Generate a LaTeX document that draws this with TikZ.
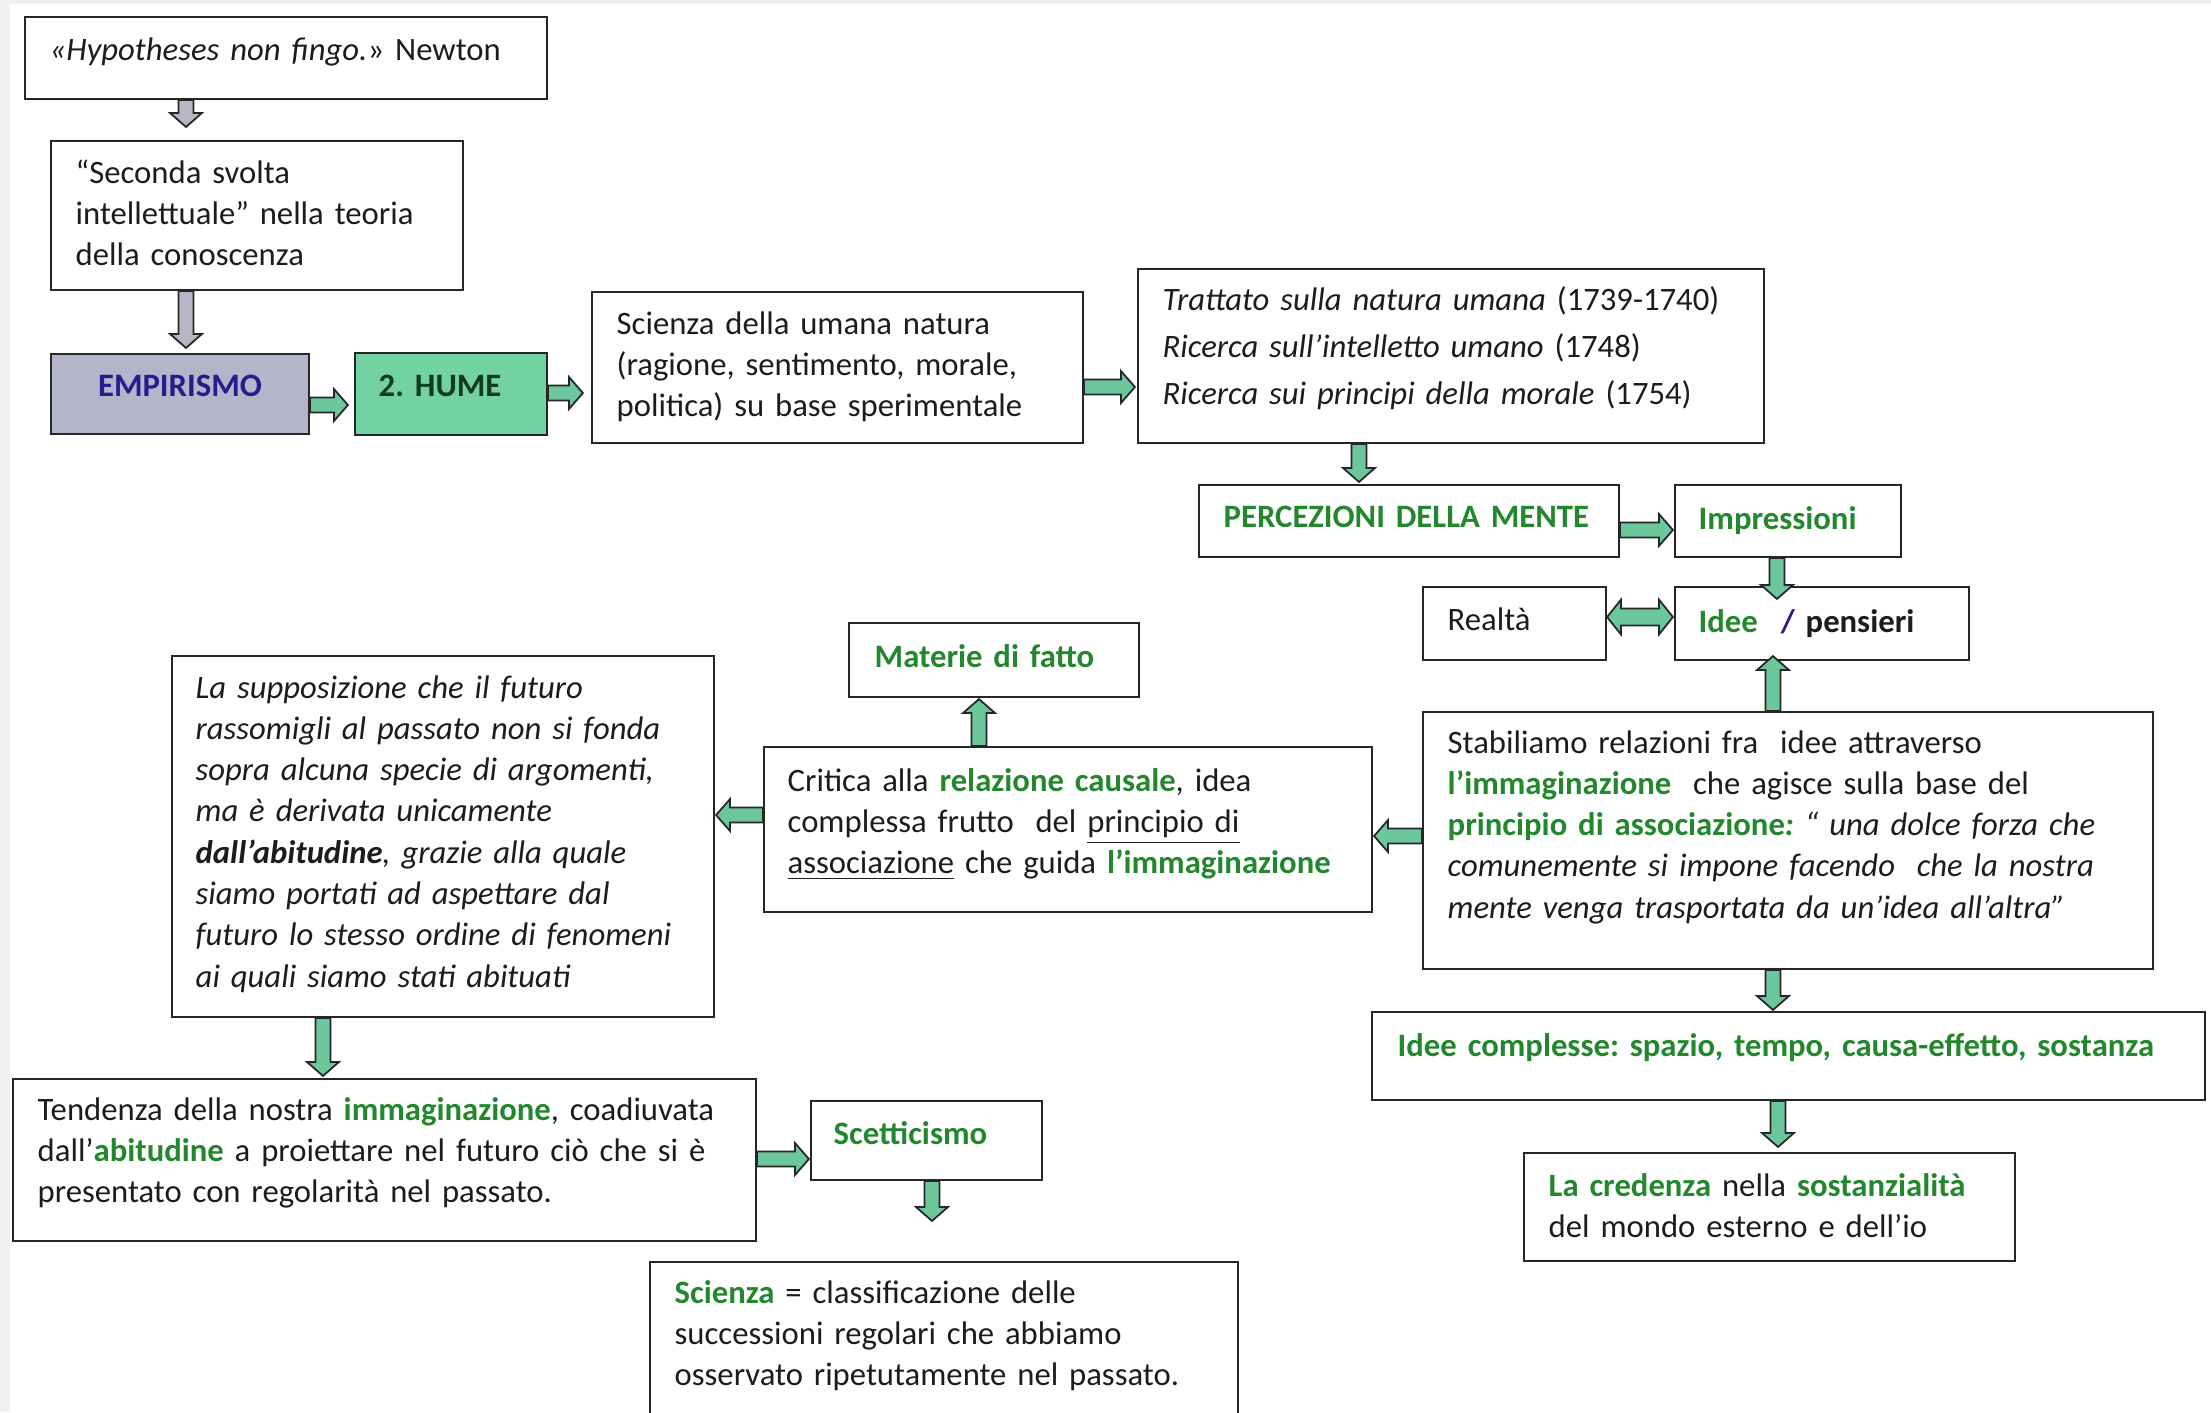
\documentclass[tikz,border=0pt]{standalone}
\usepackage{fontspec}
\setmainfont{Carlito}
\usetikzlibrary{calc,fit}
\frenchspacing
\definecolor{bordc}{HTML}{262626}
\definecolor{gtext}{RGB}{35,135,45}
\definecolor{arrowg}{HTML}{6DC79D}
\definecolor{arrowgrey}{HTML}{B6B6C6}
\definecolor{empfill}{HTML}{B4B4CB}
\definecolor{humefill}{HTML}{73D2A1}
\definecolor{emptext}{HTML}{2A1B8C}
\definecolor{humetext}{HTML}{0E3B22}
\definecolor{bggrey}{HTML}{F0F0F0}
\definecolor{maintext}{HTML}{1C1C1C}
\newcommand{\mainsize}{\fontsize{9.3pt}{11.75pt}\selectfont\frenchspacing}
\newcommand{\gb}[1]{\textcolor{gtext}{\textbf{#1}}}
\newcommand{\blockarrow}[3][greenarrow]{%
  \path #2 coordinate (bA) #3 coordinate (bB);
  \path ($(bB)!1.4mm!(bA)$) coordinate (bC);
  \draw[#1] ($(bA)!0.75mm!90:(bB)$) -- ($(bC)!0.75mm!90:(bB)$) -- ($(bC)!1.6mm!90:(bB)$) -- (bB)
    -- ($(bC)!1.6mm!-90:(bB)$) -- ($(bC)!0.75mm!-90:(bB)$) -- ($(bA)!0.75mm!-90:(bB)$) -- cycle;
}
\newcommand{\dblarrow}[3][greenarrow]{%
  \path #2 coordinate (bA) #3 coordinate (bB);
  \path ($(bB)!1.4mm!(bA)$) coordinate (bC) ($(bA)!1.4mm!(bB)$) coordinate (bD);
  \draw[#1] (bA) -- ($(bD)!1.75mm!90:(bB)$) -- ($(bD)!0.85mm!90:(bB)$) -- ($(bC)!0.85mm!90:(bB)$) -- ($(bC)!1.75mm!90:(bB)$) -- (bB)
    -- ($(bC)!1.75mm!-90:(bB)$) -- ($(bC)!0.85mm!-90:(bB)$) -- ($(bD)!0.85mm!-90:(bB)$) -- ($(bD)!1.75mm!-90:(bB)$) -- cycle;
}
\begin{document}
\begin{tikzpicture}[x=0.1mm,y=-0.1mm,
  mybox/.style={draw=bordc, line width=0.6pt, fill=white, inner sep=0pt},
  txt/.style={anchor=base west, inner sep=0pt, text width=150mm, align=left, font=\mainsize, text=maintext},
  greenarrow/.style={draw=bordc, line width=0.5pt, fill=arrowg, line join=miter},
  greyarrow/.style={draw=bordc, line width=0.5pt, fill=arrowgrey, line join=miter}]
\useasboundingbox (0,0) rectangle (2211,1412);
\clip (0,0) rectangle (2211,1412);
\fill[bggrey] (0,0) rectangle (2211,1412);
\fill[white] (10,4) rectangle (2211,1412);

% boxes
\node[mybox, fit={(25,17) (547,99)}] (newton) {};
\node[mybox, fit={(51,141) (463,290)}] (seconda) {};
\node[mybox, fill=empfill, fit={(51,354) (309,434)}] (empir) {};
\node[mybox, fill=humefill, fit={(355,353) (547,435)}] (hume) {};
\node[mybox, fit={(592,292) (1083,443)}] (sciumana) {};
\node[mybox, fit={(1138,269) (1764,443)}] (trattato) {};
\node[mybox, fit={(1199,485) (1619,557)}] (percez) {};
\node[mybox, fit={(1675,485) (1901,557)}] (impress) {};
\node[mybox, fit={(1423,587) (1606,660)}] (realta) {};
\node[mybox, fit={(1675,587) (1969,660)}] (idee) {};
\node[mybox, fit={(1423,712) (2153,969)}] (stabil) {};
\node[mybox, fit={(1372,1012) (2205,1100)}] (ideecompl) {};
\node[mybox, fit={(1524,1153) (2015,1261)}] (credenza) {};
\node[mybox, fit={(849,623) (1139,697)}] (materie) {};
\node[mybox, fit={(764,747) (1372,912)}] (critica) {};
\node[mybox, fit={(172,656) (714,1017)}] (supposiz) {};
\node[mybox, fit={(13,1079) (756,1241)}] (tendenza) {};
\node[mybox, fit={(811,1101) (1042,1180)}] (scettic) {};
\node[mybox, fit={(650,1262) (1238,1440)}] (scienzaeq) {};

% texts
\node[txt] (newtonT) at (49,60) {\textit{«Hypotheses non fingo.}» Newton};
\node[txt] (secondaT) at (75,183) {“Seconda svolta\\intellettuale” nella teoria\\della conoscenza};
\node[anchor=base, inner sep=0pt, font=\mainsize\bfseries, text=emptext] (empirT) at (180,396) {EMPIRISMO};
\node[txt, font=\mainsize\bfseries, text=humetext] (humeT) at (378,396) {2. HUME};
\node[txt] (sciumanaT) at (616,334) {Scienza della umana natura\\(ragione, sentimento, morale,\\politica) su base sperimentale};
\node[txt, font=\fontsize{9.3pt}{13.4pt}\selectfont] (trattatoT) at (1162,310) {\textit{Trattato sulla natura umana} (1739-1740)\\\textit{Ricerca sull’intelletto umano} (1748)\\\textit{Ricerca sui principi della morale} (1754)};
\node[txt] (percezT) at (1223,527) {\gb{PERCEZIONI DELLA MENTE}};
\node[txt] (impressT) at (1698,529) {\gb{Impressioni}};
\node[txt] (realtaT) at (1447,630) {Realtà};
\node[txt] (ideeT) at (1698,632) {\textbf{\textcolor{gtext}{Idee}\hspace{0.7em}\textcolor{emptext}{/} pensieri}};
\node[txt] (stabilT) at (1447,753) {Stabiliamo relazioni fra\ \ idee attraverso\\\gb{l’immaginazione}\ \ che agisce sulla base del\\\gb{principio di associazione\textit{:}}\textit{ “ una dolce forza che}\\\textit{comunemente si impone facendo\ \ che la nostra}\\\textit{mente venga trasportata da un’idea all’altra”}};
\node[txt] (ideecomplT) at (1397,1056) {\gb{Idee complesse: spazio, tempo, causa-effetto, sostanza}};
\node[txt] (credenzaT) at (1548,1196) {\gb{La credenza} nella \gb{sostanzialità}\\del mondo esterno e dell’io};
\node[txt] (materieT) at (874,667) {\gb{Materie di fatto}};
\node[txt] (criticaT) at (787,791) {Critica alla \gb{relazione causale}, idea\\complessa frutto\ \ del \underline{principio di}\\\underline{associazione} che guida \gb{l’immaginazione}};
\node[txt, font=\mainsize\itshape] (supposizT) at (195,698) {La supposizione che il futuro\\rassomigli al passato non si fonda\\sopra alcuna specie di argomenti,\\ma è derivata unicamente\\\textbf{dall’abitudine}, grazie alla quale\\siamo portati ad aspettare dal\\futuro lo stesso ordine di fenomeni\\ai quali siamo stati abituati};
\node[txt] (tendenzaT) at (37,1120) {Tendenza della nostra \gb{immaginazione}, coadiuvata\\dall’\gb{abitudine} a proiettare nel futuro ciò che si è\\presentato con regolarità nel passato.};
\node[txt] (scetticT) at (833,1144) {\gb{Scetticismo}};
\node[txt] (scienzaeqT) at (674,1303) {\gb{Scienza} = classificazione delle\\successioni regolari che abbiamo\\osservato ripetutamente nel passato.};

% connectors
\blockarrow[greyarrow]{(186,0 |- newton.south)}{($(186,0 |- seconda.north)+(0,-13)$)}
\blockarrow[greyarrow]{(186,0 |- seconda.south)}{($(186,0 |- empir.north)+(0,-5)$)}
\blockarrow{(empir.east |- 0,405)}{($(hume.west |- 0,405)+(-6,0)$)}
\blockarrow{(hume.east |- 0,393)}{($(sciumana.west |- 0,393)+(-8,0)$)}
\blockarrow{(sciumana.east |- 0,387)}{($(trattato.west |- 0,387)+(-2,0)$)}
\blockarrow{(1359,0 |- trattato.south)}{($(1359,0 |- percez.north)+(0,-2)$)}
\blockarrow{(percez.east |- 0,530)}{($(impress.west |- 0,530)+(-1,0)$)}
\blockarrow{(1777,0 |- impress.south)}{($(1777,0 |- idee.north)+(0,13)$)}
\dblarrow{(realta.east |- 0,617)}{($(idee.west |- 0,617)+(-1,0)$)}
\blockarrow{(1773,0 |- stabil.north)}{($(1773,0 |- idee.south)+(0,-5)$)}
\blockarrow{(stabil.west |- 0,836)}{($(critica.east |- 0,836)+(1,0)$)}
\blockarrow{(979,0 |- critica.north)}{($(979,0 |- materie.south)+(0,1)$)}
\blockarrow{(critica.west |- 0,815)}{($(supposiz.east |- 0,815)+(1,0)$)}
\blockarrow{(1773,0 |- stabil.south)}{($(1773,0 |- ideecompl.north)+(0,-1)$)}
\blockarrow{(1778,0 |- ideecompl.south)}{($(1778,0 |- credenza.north)+(0,-5)$)}
\blockarrow{(323,0 |- supposiz.south)}{($(323,0 |- tendenza.north)+(0,-2)$)}
\blockarrow{(tendenza.east |- 0,1159)}{($(scettic.west |- 0,1159)+(-1,0)$)}
\blockarrow{(932,0 |- scettic.south)}{($(932,0 |- scienzaeq.north)+(0,-40)$)}
\end{tikzpicture}
\end{document}
